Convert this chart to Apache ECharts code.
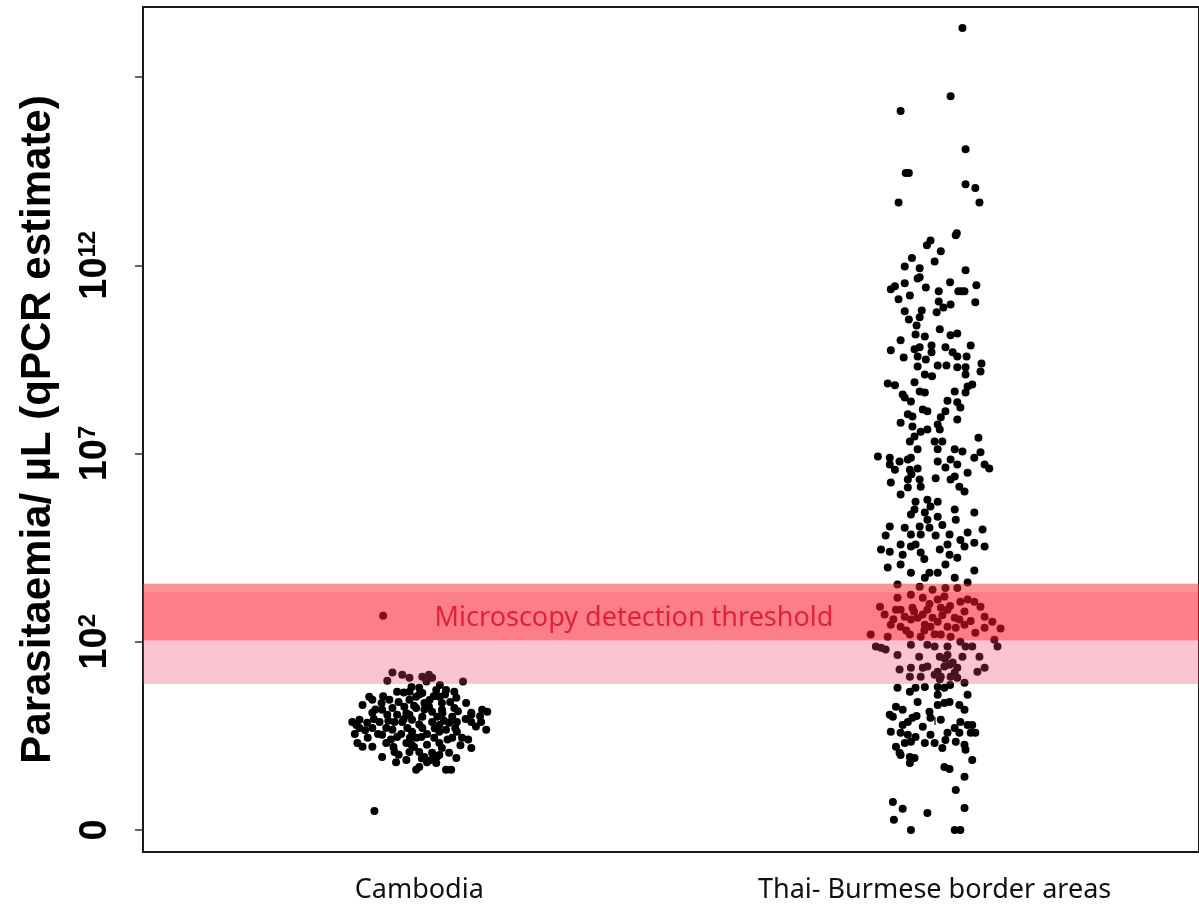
<!DOCTYPE html>
<html>
<head>
<meta charset="utf-8">
<script src="https://cdn.jsdelivr.net/npm/echarts@6/dist/echarts.min.js"></script>
<style>
html,body{margin:0;padding:0;background:#fff;}
#chart{width:1199px;height:906px;}
</style>
</head>
<body>
<div id="chart"></div>
<script>
// ---- data ----
const categories = ['Cambodia', 'Thai- Burmese border areas'];
// y values are log10(parasites/µL); the "0" row is drawn at -3
const yTickValues = [-3, 2, 7, 12, 17];
const yTickLabels = ['0', '10^2', '10^7', '10^12', ''];
const thresholdText = 'Microscopy detection threshold';
const fringeBand = [3.33, 3.54];
const detectionBand = [2.03, 3.33];
const lowBand = [0.88, 2.03];

// [jitter offset from category, log10 parasitaemia]
const cambodia = [
[-0.052,1.18],[-0.033,1.12],[-0.062,0.96],[-0.019,1.04],[0.006,1.07],[0.019,1.12],[0.025,1.04],[0.014,0.94],[0.085,0.94],
[0,0.78],[-0.019,0.67],[-0.043,0.67],[0.033,0.72],[0.052,0.72],[0.068,0.67],[-0.097,0.54],[-0.091,0.46],[-0.073,0.37],
[-0.058,0.46],[-0.019,0.46],[-0.006,0.54],[0.006,0.64],[0.010,0.37],[0.039,0.54],[0.044,0.37],[0.072,0.51],[-0.110,0.32],
[-0.072,0.19],[-0.052,0.24],[-0.029,0.27],[-0.006,0.24],[0.019,0.27],[0.025,0.14],[0.044,0.19],[0.068,0.24],[0.091,0.37],
[-0.091,0.11],[-0.062,0.06],[-0.043,0.06],[-0.019,0.06],[0.006,0.01],[0.035,0.01],[0.064,0.01],[0.101,0.11],[0.122,0.19],
[0.132,0.14],[-0.130,-0.13],[-0.116,-0.07],[-0.101,-0.15],[-0.077,-0.13],[-0.048,-0.13],[-0.033,-0.13],[-0.014,-0.07],
[0.025,-0.13],[0.039,-0.21],[0.058,-0.15],[0.073,-0.13],[0.101,-0.13],[0.120,-0.13],[-0.116,-0.29],[-0.091,-0.29],
[-0.064,-0.29],[-0.052,-0.34],[-0.023,-0.29],[-0.014,-0.39],[0.006,-0.29],[0.039,-0.39],[0.052,-0.34],[0.073,-0.39],
[0.130,-0.34],[-0.072,-0.47],[-0.043,-0.53],[-0.006,-0.55],[0.004,-0.53],[0.029,-0.55],[0.064,-0.55],[0.083,-0.55],
[-0.120,-0.69],[-0.110,-0.79],[-0.091,-0.79],[-0.064,-0.69],[-0.025,-0.69],[-0.015,-0.74],[0.015,-0.74],[0.039,-0.69],
[0.044,-0.82],[0.101,-0.82],[-0.072,-1.06],[-0.048,-0.93],[-0.019,-0.93],[0,-0.93],[0.010,-1.06],[0.039,-1.01],
[0.058,-0.95],[0.072,-1.09],[-0.025,-1.14],[0,-1.33],[0.023,-1.14],[0.033,-1.22],[0.052,-1.40],[0.062,-1.40],[-0.006,-1.40],
[-0.070,2.69],[-0.087,-2.50],[0.101,0.06],[-0.122,-0.21],
[-0.040,0.40],[-0.010,0.30],[0.020,0.45],[0.045,0.10],[-0.030,-0.05],[0.000,-0.20],[0.030,-0.30],[-0.060,-0.10],
[-0.080,-0.45],[-0.035,-0.45],[0.015,-0.45],[0.055,-0.60],[-0.010,-0.80],[0.025,-0.95],[-0.050,-0.80],[0.070,-0.30],
[0.090,-0.05],[-0.100,-0.55],[-0.015,0.80],[0.040,0.85],[-0.070,0.55],[0.010,0.20],[-0.025,0.10],[0.060,0.40],
[0.035,-1.05],[-0.040,-1.00],[0.015,-1.20],[0.080,-0.75],[-0.085,0.20],[0.000,0.60],
[-0.105,-0.35],[-0.125,-0.45],[0.110,-0.25],[0.118,0.02],[0.095,-0.60],[-0.045,-1.20],[0.005,-1.10],[-0.030,0.65],
[0.050,0.60],[0.075,0.15],[-0.055,-0.60],[0.028,0.55],[-0.018,-0.55],[0.048,-0.10],[-0.088,-0.05]
];

const thai = [
[0.054,18.30],[0.031,16.49],[-0.066,16.10],[0.060,15.08],[-0.050,14.45],[-0.056,14.45],[0.060,14.15],[0.079,14.05],
[0.087,13.67],[-0.070,13.67],[0.041,12.80],[0.043,12.85],[-0.008,12.66],[-0.015,12.53],[0.012,12.37],[-0.044,12.19],
[-0.058,11.97],[-0.029,11.92],[-0.033,11.65],[-0.029,11.68],[-0.085,11.36],[-0.077,11.44],[-0.058,11.52],[-0.048,11.20],
[-0.017,11.41],[0.008,11.31],[0.008,11.04],[0.031,10.96],[0.017,10.88],[0.060,11.87],[0.052,11.31],[0.046,11.31],
[0.058,11.31],[0.081,11.47],[0.079,11.02],
[-0.058,10.78],[-0.025,10.80],[0.004,10.75],[-0.050,10.56],[-0.029,10.62],[-0.037,10.16],[-0.019,10.11],[-0.066,10.01],
[0.031,10.14],[0.044,10.19],[-0.085,9.74],[-0.060,9.55],[-0.039,9.77],[-0.029,9.82],[-0.006,9.87],[-0.006,9.69],
[-0.033,9.58],[-0.017,9.50],[-0.033,9.31],[0.021,9.82],[0.035,9.69],[0.044,9.58],[0.070,9.87],[0.062,9.58],[0.006,9.34],
[0.023,9.34],[0.044,9.29],[0.091,9.39],[0.089,9.18],[0.060,9.29],[0.060,9.10],[-0.019,9.10],
[-0.091,8.86],[-0.077,8.81],[-0.039,8.89],[-0.029,8.65],[-0.019,8.62],[-0.062,8.57],[-0.058,8.49],[0.039,8.65],
[0.064,8.78],[0.073,8.83],[0.060,8.62],[-0.046,8.38],[0.044,8.36],[0.050,8.22],[-0.023,8.17],[-0.014,8.12],[0.021,8.12],
[-0.052,8.04],[-0.043,7.98],[0.012,7.96],[-0.066,7.82],[0.044,7.90],[0.006,7.77],[-0.043,7.72],[-0.027,7.58],[-0.014,7.64],
[0.010,7.64],[-0.039,7.45],[0,7.32],[0.015,7.32],[-0.048,7.32],[0.085,7.42],[-0.033,7.11],[0.006,7.11],[0.039,7.11],
[0.054,7.05],[-0.110,6.92],[-0.087,6.89],[-0.087,6.71],[-0.068,6.79],[-0.052,6.84],[-0.046,6.89],[0.006,6.79],[0.031,6.84],
[0.044,6.71],[0.077,6.89],[0.089,7.03],[0.097,6.71],[0.106,6.60],[-0.077,6.57],[-0.048,6.57],[-0.033,6.60],[0.021,6.63],
[0.064,6.49],[0.039,6.39],[0.031,6.31],[-0.085,6.23],[-0.052,6.31],[-0.052,6.10],[-0.029,6.31],[-0.027,6.12],[0.002,6.34],
[0.048,6.12],[0.058,5.99],[-0.066,5.91],[-0.037,5.72],[-0.014,5.77],[-0.008,5.59],[0.006,5.72],[-0.046,5.38],[-0.039,5.51],
[-0.019,5.43],[-0.014,5.24],[0.006,5.32],[0.039,5.51],[0.041,5.24],[0.077,5.43],[-0.087,5.06],[-0.058,5.03],[-0.029,5.06],
[-0.010,5.03],[0.093,4.98],[-0.095,4.82],[-0.046,4.85],[-0.027,4.85],[0.002,4.82],[0.029,4.85],[0.064,4.90],
[-0.104,4.45],[-0.087,4.39],[-0.066,4.58],[-0.062,4.31],[-0.046,4.53],[-0.037,4.58],[-0.027,4.37],[0.010,4.45],[0.025,4.58],
[0.029,4.31],[0.044,4.23],[0.058,4.53],[0.077,4.63],[0.097,4.53],[-0.091,3.97],[-0.066,4.05],[0.021,4.05],[0.077,3.89],
[-0.046,3.83],[-0.019,3.70],[-0.010,3.83],[0.006,3.83],[0.039,3.70],[-0.072,3.52],[0.064,3.57],[-0.029,3.46],[-0.004,3.38],
[0.021,3.43],[0.044,3.43],[-0.072,3.17],[-0.046,3.25],[-0.023,3.17],[0.006,3.12],[0.019,3.20],[0.050,3.06],[0.064,3.12],
[0.077,3.06],[-0.106,2.93],[-0.075,2.85],[-0.066,2.85],[-0.043,2.90],[-0.014,2.85],[0.012,2.90],[0.025,2.85],[0.058,2.80],
[0.089,2.93],[-0.097,2.72],[-0.058,2.66],[-0.046,2.59],[-0.033,2.64],[-0.023,2.72],[-0.004,2.64],[0.006,2.53],[0.039,2.64],
[0.048,2.59],[0.097,2.66],[0.112,2.53],[-0.085,2.45],[-0.066,2.40],[-0.019,2.45],[-0.008,2.40],[0.025,2.40],[0.041,2.37],
[0.058,2.45],[0.097,2.37],[0.128,2.35],[-0.124,2.19],[-0.091,2.13],[-0.048,2.19],[-0.027,2.13],[0.012,2.19],[0.031,2.13],
[0.079,2.24],[0.116,2.05],[-0.114,1.87],[-0.104,1.84],[-0.095,1.79],[-0.046,1.92],[-0.014,1.92],[0,1.87],[0.025,1.87],
[0.060,1.87],[0.073,1.87],[0.122,1.87],[-0.072,1.65],[0.010,1.60],[0.025,1.65],[0.054,1.60],[0.087,1.60],[0.029,1.39],
[0.019,1.34],[0.044,1.31],[-0.068,1.26],[-0.046,1.31],[-0.023,1.31],[-0.014,1.34],[0.006,1.20],[0.039,1.18],[0.097,1.31],
[0.083,1.20],[-0.048,1.07],[-0.027,1.07],[0,1.12],[0.012,1.07],[0.031,1.07],[0.044,1.04],[0.058,0.91],[-0.072,0.78],
[-0.048,0.67],[-0.037,0.78],[-0.019,0.80],[0.006,0.80],[0.019,0.78],[0.064,0.59],[0.006,0.59],
[-0.033,0.40],[0.006,0.32],[0.019,0.37],[0.029,0.40],[0.048,0.32],[0.058,0.19],[-0.075,0.27],[-0.087,0.06],[-0.081,0.01],
[-0.062,0.19],[-0.010,0.14],[-0.008,-0.02],[-0.052,-0.13],[-0.043,-0.02],[-0.035,0.03],[0.012,-0.07],[-0.062,-0.21],
[-0.023,-0.26],[0.050,-0.13],[0.064,-0.21],[0.073,-0.21],[0.039,-0.29],[-0.085,-0.39],[-0.066,-0.42],[-0.052,-0.47],
[-0.037,-0.53],[-0.008,-0.47],[0.025,-0.42],[0.048,-0.42],[0.070,-0.42],[0.079,-0.42],[-0.058,-0.69],[-0.046,-0.66],
[-0.019,-0.69],[0,-0.69],[0.021,-0.61],[0.041,-0.66],[0.058,-0.74],[-0.075,-0.79],[0.015,-0.82],[-0.068,-0.95],
[-0.066,-1.01],[0.060,-0.87],[-0.048,-1.06],[-0.039,-1.09],[-0.048,-1.22],[0.019,-1.33],[0.029,-1.38],[0.073,-1.14],
[0.058,-1.59],[0.041,-1.94],[-0.081,-2.26],[-0.062,-2.44],[-0.014,-2.55],[0.058,-2.42],[-0.079,-2.73],[-0.046,-3.00],
[0.039,-3.00],[0.050,-3.00],
[-0.040,2.80],[-0.020,2.30],[0.015,2.70],[0.030,2.95],[-0.055,2.30],[0.000,2.20],[0.020,1.55],[0.035,1.45],[0.010,1.00],
[-0.030,1.60],[0.050,2.00],[-0.010,3.00],[0.070,2.55],[-0.080,2.60],[0.030,0.85],[-0.005,9.05],[0.025,8.40],[-0.045,6.45],
[0.015,5.10],[-0.020,4.20],[0.050,4.70],[-0.035,10.40],[0.010,10.30],[-0.070,11.10],[0.030,11.55],[0.000,12.10]
];

// ---- chart ----
const chart = echarts.init(document.getElementById('chart'), null, {renderer: 'canvas'});

function toPoints(list, catIndex) {
  return list.map(p => [catIndex + 1 + p[0], p[1]]);
}

function yLabel(v) {
  const i = yTickValues.findIndex(t => Math.abs(t - v) < 1e-6);
  if (i < 0) return '';
  const s = yTickLabels[i];
  if (s.indexOf('^') >= 0) {
    const parts = s.split('^');
    return '{b|' + parts[0] + '}{s|' + parts[1] + '}';
  }
  return '{b|' + s + '}';
}

const dotStyle = {color: '#000', opacity: 1};

const option = {
  animation: false,
  grid: {
    left: 143, top: 7, right: -3, bottom: 54,
    show: true, borderColor: '#1a1a1a', borderWidth: 2, backgroundColor: 'transparent'
  },
  xAxis: {
    type: 'value', min: 0.464, max: 2.513,
    splitLine: {show: false},
    axisLine: {show: false},
    axisTick: {show: true, length: 8, lineStyle: {color: '#333', width: 1.5}, customValues: [1, 2]},
    axisLabel: {
      customValues: [1, 2], margin: 25,
      formatter: v => categories[Math.round(v) - 1],
      color: '#111', fontSize: 27, fontFamily: 'Noto Sans'
    }
  },
  yAxis: {
    type: 'value', min: -3.586, max: 18.861,
    name: 'Parasitaemia/ µL (qPCR estimate)',
    nameLocation: 'middle', nameRotate: 90, nameGap: 84,
    nameTextStyle: {fontSize: 42, fontWeight: 'bold', color: '#000', fontFamily: 'Liberation Sans'},
    splitLine: {show: false},
    axisLine: {show: false},
    axisTick: {show: true, length: 8, lineStyle: {color: '#333', width: 1.5}, customValues: yTickValues},
    axisLabel: {
      customValues: yTickValues.slice(0, 4), rotate: 90, margin: 27,
      formatter: yLabel,
      rich: {
        b: {fontSize: 38, fontWeight: 'bold', color: '#000', fontFamily: 'Liberation Sans', lineHeight: 40},
        s: {fontSize: 24, fontWeight: 'bold', color: '#000', fontFamily: 'Liberation Sans', verticalAlign: 'top', lineHeight: 24}
      }
    }
  },
  series: [
    {
      name: categories[0], type: 'scatter', data: toPoints(cambodia, 0),
      symbol: 'circle', symbolSize: 8, itemStyle: dotStyle, z: 2
    },
    {
      name: categories[1], type: 'scatter', data: toPoints(thai, 1),
      symbol: 'circle', symbolSize: 8, itemStyle: dotStyle, z: 2
    },
    {
      name: 'threshold', type: 'scatter', data: [], z: 10,
      markArea: {
        silent: true, z: 10,
        data: [
          [{yAxis: fringeBand[0], itemStyle: {color: 'rgba(243,40,40,0.5)'}, label: {show: false}}, {yAxis: fringeBand[1]}],
          [{yAxis: detectionBand[0], itemStyle: {color: 'rgba(250,20,40,0.55)'},
            label: {show: true, position: 'inside', offset: [-37, 2], formatter: thresholdText,
                    color: '#e3203a', fontSize: 27, fontFamily: 'Noto Sans'}},
           {yAxis: detectionBand[1]}],
          [{yAxis: lowBand[0], itemStyle: {color: 'rgba(238,58,98,0.3)'}, label: {show: false}}, {yAxis: lowBand[1]}]
        ]
      }
    }
  ]
};
chart.setOption(option);
</script>
</body>
</html>
